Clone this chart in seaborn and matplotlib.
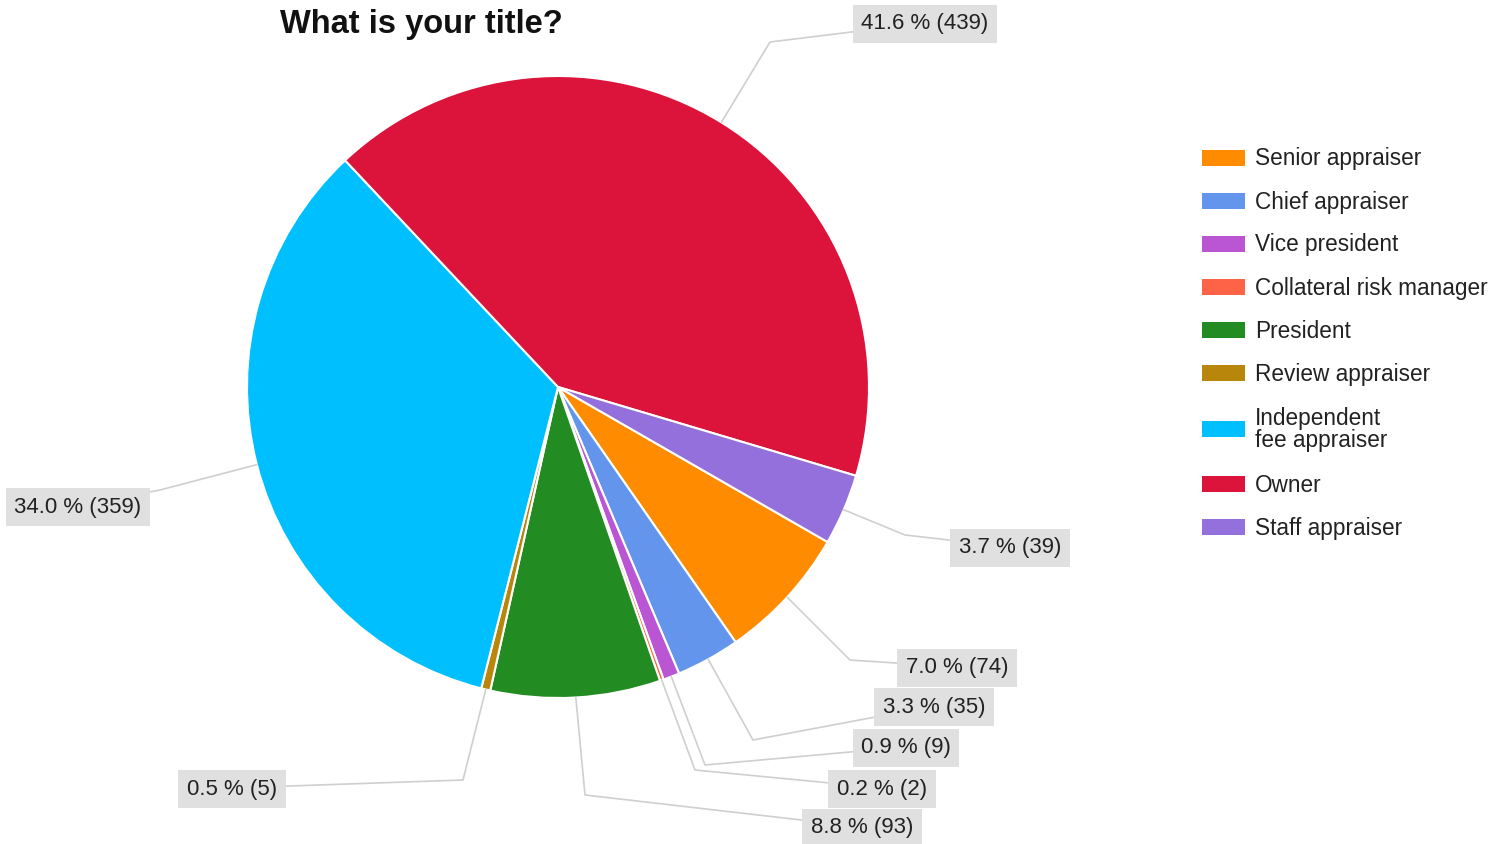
import matplotlib
matplotlib.use("Agg")
import matplotlib.pyplot as plt
from matplotlib.patches import Rectangle
import numpy as np
import seaborn as sns

# Survey answers, in the order the slices are drawn (clockwise)
titles = ["Senior appraiser", "Chief appraiser", "Vice president",
          "Collateral risk manager", "President", "Review appraiser",
          "Independent\nfee appraiser", "Owner", "Staff appraiser"]
counts = [74, 35, 9, 2, 93, 5, 359, 439, 39]
colors = ["#FF8C00", "#6495ED", "#BA55D3", "#FF6347", "#228B22",
          "#B8860B", "#00BFFF", "#DC143C", "#9370DB"]

# Callout placement (pixel space): elbow of the leader line and label centre
elbows = [(850, 660), (753, 740), (705, 765), (695, 770), (585, 795),
          (463, 780), (160, 490), (770, 42), (905, 535)]
label_pos = [(957, 667), (934, 706), (906, 747), (882, 788), (862, 827),
             (232, 788), (78, 506), (925, 23), (1010, 547)]

W, H = 1507, 844
sns.set_theme(style="white")
plt.rcParams["font.family"] = ["Liberation Sans", "DejaVu Sans"]

fig = plt.figure(figsize=(W / 100, H / 100), dpi=100)
ax = fig.add_axes([0, 0, 1, 1])

center = (558, 387)
radius = 311
total = sum(counts)

# y axis points down, so counterclockwise in data space reads clockwise
wedges, _ = ax.pie(counts, colors=colors, center=center, radius=radius,
                   startangle=29.9, counterclock=True,
                   wedgeprops=dict(edgecolor="white", linewidth=1.5))
ax.set_xlim(0, W)
ax.set_ylim(H, 0)
ax.set_aspect("auto")
ax.axis("off")

# Leader lines and value callouts
for w, n, (ex, ey), (lx, ly) in zip(wedges, counts, elbows, label_pos):
    mid = np.deg2rad((w.theta1 + w.theta2) / 2)
    sx = center[0] + radius * np.cos(mid)
    sy = center[1] + radius * np.sin(mid)
    ax.plot([sx, ex, lx], [sy, ey, ly], color="#cfcfcf", lw=1.2, zorder=1)
    ax.text(lx, ly + 1, f"{100 * n / total:.1f} % ({n})", ha="center", va="center",
            fontsize=16, color="#222222", zorder=3,
            bbox=dict(boxstyle="square,pad=0.38", fc="#e0e0e0", ec="none"))

# Title
ax.text(280, 24, "What is your title?", ha="left", va="center",
        fontsize=23.5, fontweight="bold", color="#111111")

# Legend
y = 158
pitch = 43
for name, col in zip(titles, colors):
    extra = 12.5 * name.count("\n")
    y += extra
    ax.add_patch(Rectangle((1202, y - 8), 43, 16, facecolor=col,
                           edgecolor="none", zorder=2))
    ax.text(1255, y + 1, name, ha="left", va="center", fontsize=16.3,
            color="#222222", linespacing=0.95)
    y += pitch + extra

fig.savefig("out.png", dpi=100, facecolor="white")
